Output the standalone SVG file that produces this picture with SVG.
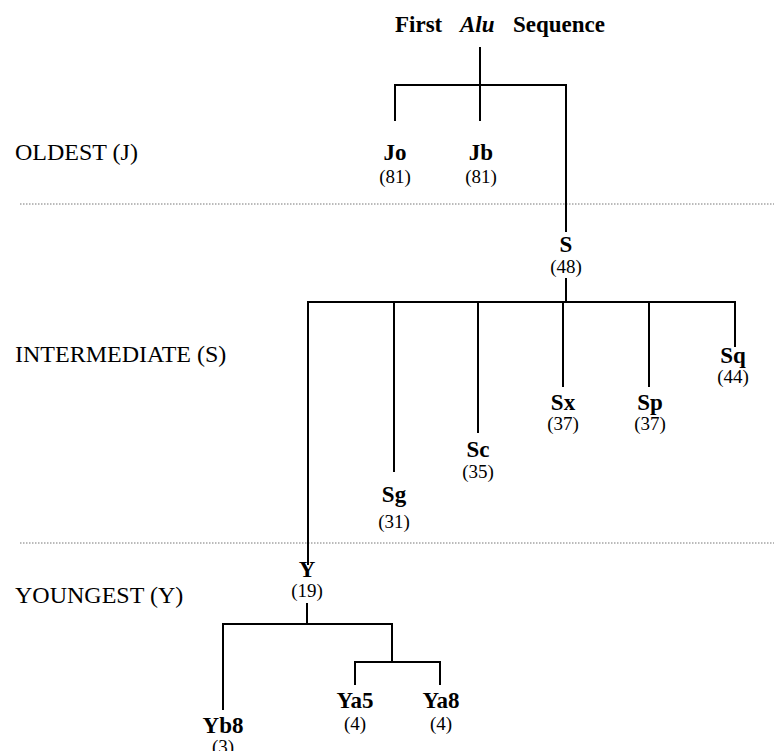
<svg xmlns="http://www.w3.org/2000/svg" width="774" height="751" viewBox="0 0 774 751">
<style>
.t{font-family:"Liberation Serif","Times New Roman",serif;fill:#000}
.lbl{font-size:23px;font-weight:bold;text-anchor:middle}
.num{font-size:19px;text-anchor:middle}
.side{font-size:24px}
.ttl{font-size:23px;font-weight:bold}
.ln{stroke:#000;stroke-width:2;fill:none}
.dot{stroke:#777;stroke-width:1;stroke-dasharray:1.5 1.5;fill:none}
</style>
<rect width="774" height="751" fill="#fff"/>
<g id="title"><text class="t ttl" y="32"><tspan x="395">First</tspan><tspan x="460" font-style="italic">Alu</tspan><tspan x="513">Sequence</tspan></text></g>
<g id="bands">
<line class="dot" x1="20" y1="204" x2="774" y2="204"/>
<line class="dot" x1="20" y1="543" x2="774" y2="543"/>
<text class="t side" x="15" y="160">OLDEST (J)</text>
<text class="t side" x="15" y="362">INTERMEDIATE (S)</text>
<text class="t side" x="15" y="603">YOUNGEST (Y)</text>
</g>
<g id="connectors">
<path class="ln" d="M480 47V121M395 121V85H566V232"/>
<path class="ln" d="M566 278V302M308 565V302H735V347M394 302V472M478 302V433M563 302V387M649 302V387"/>
<path class="ln" d="M307 603V624M223 710V624H392V662M355 685V662H440V685"/>
</g>
<g id="Jo"><text class="t lbl" x="395" y="160">Jo</text><text class="t num" x="395" y="183">(81)</text></g>
<g id="Jb"><text class="t lbl" x="481" y="160">Jb</text><text class="t num" x="481" y="183">(81)</text></g>
<g id="S"><text class="t lbl" x="566" y="252">S</text><text class="t num" x="566" y="273">(48)</text></g>
<g id="Sq"><text class="t lbl" x="733" y="363">Sq</text><text class="t num" x="733" y="383">(44)</text></g>
<g id="Sx"><text class="t lbl" x="563" y="410">Sx</text><text class="t num" x="563" y="430">(37)</text></g>
<g id="Sp"><text class="t lbl" x="650" y="410">Sp</text><text class="t num" x="650" y="430">(37)</text></g>
<g id="Sc"><text class="t lbl" x="478" y="457">Sc</text><text class="t num" x="478" y="478">(35)</text></g>
<g id="Sg"><text class="t lbl" x="394" y="502">Sg</text><text class="t num" x="394" y="528">(31)</text></g>
<g id="Y"><text class="t lbl" x="307" y="577">Y</text><text class="t num" x="307" y="597">(19)</text></g>
<g id="Yb8"><text class="t lbl" x="223" y="733">Yb8</text><text class="t num" x="223" y="753">(3)</text></g>
<g id="Ya5"><text class="t lbl" x="355" y="708">Ya5</text><text class="t num" x="355" y="730">(4)</text></g>
<g id="Ya8"><text class="t lbl" x="441" y="708">Ya8</text><text class="t num" x="441" y="730">(4)</text></g>
</svg>
